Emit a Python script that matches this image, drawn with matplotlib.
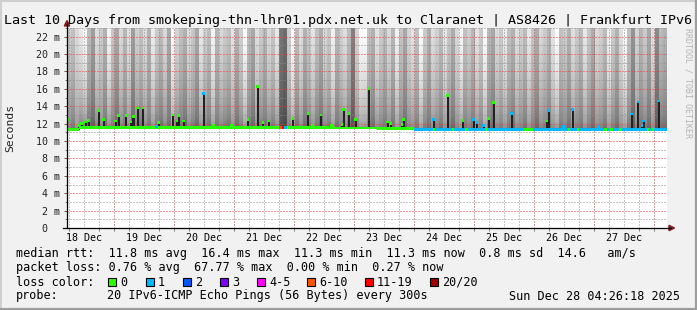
import numpy as np
import pandas as pd
import matplotlib
matplotlib.use("Agg")
import matplotlib.pyplot as plt
import matplotlib.dates as mdates
import matplotlib.transforms as mtransforms
from matplotlib.lines import Line2D
from matplotlib.patches import Polygon, Rectangle

W, H = 697, 310

# graph time window
t_start = pd.Timestamp("2025-12-18 05:06")
t_end = t_start + pd.Timedelta(days=10)

# smoke, one value per column: grey level just above the median and at the top
smoke_base = [120, 105, 135, 110, 125, 95, 85, 115, 130, 100,
              125, 110, 90, 120, 105, 130, 85, 115, 100, 125,
              110, 135, 105, 95, 120, 100, 140, 115, 105, 90,
              125, 110, 95, 130, 115, 100, 135, 105, 120, 110,
              100, 130, 95, 115, 140, 105, 90, 125, 110, 100,
              120, 110, 130, 70, 65, 115, 140, 100, 125, 95,
              110, 130, 105, 90, 120, 110, 135, 100, 115, 125,
              105, 75, 120, 140, 135, 110, 95, 125, 115, 100,
              120, 100, 135, 110, 90, 115, 125, 105, 140, 110,
              95, 125, 115, 100, 130, 110, 90, 120, 135, 105,
              115, 100, 125, 110, 140, 105, 90, 120, 110, 130,
              105, 95, 125, 115, 100, 130, 110, 90, 120, 110,
              100, 125, 135, 105, 115, 95, 125, 110, 100, 130,
              110, 90, 120, 115, 100, 135, 110, 95, 125, 140,
              105, 80, 115, 100, 110, 90, 125, 75, 100, 95]
smoke_top = [210, 195, 220, 235, 255, 190, 160, 225, 205, 180,
             248, 200, 170, 220, 185, 230, 160, 210, 195, 225,
             180, 240, 205, 190, 220, 170, 255, 215, 195, 180,
             225, 200, 170, 235, 210, 190, 248, 185, 220, 205,
             195, 230, 180, 210, 255, 195, 170, 225, 205, 185,
             220, 200, 235, 120, 110, 210, 255, 190, 225, 180,
             205, 230, 195, 175, 220, 200, 245, 185, 210, 225,
             190, 130, 215, 255, 255, 200, 180, 230, 205, 190,
             220, 185, 245, 200, 170, 215, 230, 195, 255, 205,
             180, 225, 210, 190, 235, 200, 175, 220, 250, 195,
             210, 185, 230, 205, 255, 190, 170, 220, 205, 240,
             195, 180, 225, 210, 190, 235, 200, 175, 220, 205,
             185, 230, 255, 195, 210, 180, 225, 205, 190, 235,
             200, 175, 220, 210, 190, 245, 205, 180, 225, 255,
             195, 150, 215, 185, 205, 170, 225, 140, 190, 180]

# median line: value holds until the next change
med_time = ["2025-12-18 05:06", "2025-12-18 10:00", "2025-12-21 17:54", "2025-12-21 19:00",
            "2025-12-21 20:00", "2025-12-21 21:00", "2025-12-22 14:00", "2025-12-23 09:00",
            "2025-12-24 00:00", "2025-12-24 07:30", "2025-12-24 08:30", "2025-12-24 15:00",
            "2025-12-24 16:00", "2025-12-24 20:30", "2025-12-24 21:30", "2025-12-25 04:30",
            "2025-12-25 05:30", "2025-12-25 20:00", "2025-12-25 23:30", "2025-12-26 13:30",
            "2025-12-26 14:30", "2025-12-26 17:00", "2025-12-26 18:00", "2025-12-27 04:00",
            "2025-12-27 05:00", "2025-12-27 06:30", "2025-12-27 07:30", "2025-12-27 10:00",
            "2025-12-27 11:00", "2025-12-27 21:00", "2025-12-27 22:00", "2025-12-27 23:00",
            "2025-12-28 00:00"]
med_ms = [11.3, 11.6, 11.6, 11.6, 11.6, 11.6, 11.5, 11.4,
          11.3, 11.3, 11.3, 11.3, 11.3, 11.3, 11.3, 11.3,
          11.3, 11.3, 11.3, 11.3, 11.3, 11.3, 11.3, 11.3,
          11.3, 11.3, 11.3, 11.3, 11.3, 11.3, 11.3, 11.3, 11.3]
med_loss = [0, 0, 5, 6, 1, 0, 0, 0,
            1, 0, 1, 0, 1, 0, 1, 0,
            1, 0, 1, 0, 1, 0, 1, 0,
            1, 0, 1, 0, 1, 0, 1, 0, 1]

# short median excursions
spike_time = ["2025-12-18 05:10", "2025-12-18 09:54", "2025-12-18 11:06", "2025-12-18 12:42",
              "2025-12-18 13:54", "2025-12-18 17:54", "2025-12-18 19:54", "2025-12-19 00:42",
              "2025-12-19 01:54", "2025-12-19 04:42", "2025-12-19 06:42", "2025-12-19 07:42",
              "2025-12-19 09:30", "2025-12-19 11:30", "2025-12-19 17:06", "2025-12-19 17:54",
              "2025-12-19 23:30", "2025-12-20 01:06", "2025-12-20 01:54", "2025-12-20 03:54",
              "2025-12-20 11:54", "2025-12-20 15:54", "2025-12-20 23:06", "2025-12-21 05:30",
              "2025-12-21 09:30", "2025-12-21 11:30", "2025-12-21 13:54", "2025-12-21 23:30",
              "2025-12-22 05:30", "2025-12-22 07:30", "2025-12-22 10:42", "2025-12-22 15:06",
              "2025-12-22 19:06", "2025-12-22 19:54", "2025-12-22 21:54", "2025-12-23 00:42",
              "2025-12-23 05:54", "2025-12-23 13:30", "2025-12-23 14:42", "2025-12-23 19:06",
              "2025-12-23 19:54", "2025-12-24 07:54", "2025-12-24 13:30", "2025-12-24 19:30",
              "2025-12-24 23:54", "2025-12-25 01:06", "2025-12-25 03:54", "2025-12-25 05:54",
              "2025-12-25 07:54", "2025-12-25 15:06", "2025-12-26 05:06", "2025-12-26 05:54",
              "2025-12-26 11:54", "2025-12-26 15:30", "2025-12-27 01:54", "2025-12-27 15:06",
              "2025-12-27 17:30", "2025-12-27 19:06", "2025-12-27 19:54", "2025-12-28 01:54"]
spike_ms = [12.5, 11.8, 12.0, 12.2, 12.4, 13.5, 12.5, 12.3,
            12.9, 12.9, 12.2, 12.8, 13.8, 13.8, 11.7, 12.1,
            13.0, 12.3, 12.9, 12.3, 15.5, 11.8, 11.8, 12.5,
            16.3, 12.1, 12.3, 12.6, 13.2, 11.8, 13.0, 11.8,
            11.9, 13.6, 13.2, 12.5, 16.0, 12.2, 12.0, 11.9,
            12.5, 12.5, 15.2, 12.4, 12.5, 12.1, 11.8, 12.6,
            14.4, 13.2, 12.3, 13.5, 11.7, 13.6, 11.7, 13.1,
            14.5, 11.8, 12.3, 14.6]
spike_loss = [0, 0, 0, 0, 0, 0, 0, 0,
              0, 0, 0, 0, 0, 0, 1, 0,
              0, 0, 0, 0, 1, 0, 0, 0,
              0, 0, 0, 0, 0, 0, 0, 0,
              0, 0, 0, 0, 0, 0, 0, 0,
              0, 1, 0, 0, 1, 1, 1, 0,
              0, 1, 0, 1, 1, 1, 1, 1,
              1, 1, 1, 1]

loss_labels = ["0", "1", "2", "3", "4-5", "6-10", "11-19", "20/20"]
loss_colors = ["#26ff00", "#00b8ff", "#0059ff", "#7e00ff",
               "#ff00ff", "#ff5500", "#ff0000", "#a10000"]

plt.rcParams['font.family'] = 'DejaVu Sans Mono'


def fx(x):
    return x / W


def fy(y):
    return 1 - y / H


fig = plt.figure(figsize=(W / 100, H / 100), dpi=100)
fig.patch.set_facecolor('#f1f1f1')
ax = fig.add_axes([fx(67), 82 / H, 600 / W, 200 / H])
ax.set_facecolor('white')
for s in ax.spines.values():
    s.set_visible(False)

x0 = mdates.date2num(t_start)
x1 = mdates.date2num(t_end)

# smoke columns, shaded from the grey near the median to the grey at the top
n = len(smoke_top)
edges = np.linspace(x0, x1, n + 1)
centers = (edges[:-1] + edges[1:]) / 2
mt = mdates.date2num(pd.to_datetime(med_time))
med_arr = np.array(med_ms)
base = med_arr[np.searchsorted(mt, centers, side='right') - 1]
levels = np.linspace(11.0, 23.0, 241)
img = np.ones((len(levels), n, 4))
for j in range(n):
    frac = np.clip((levels - base[j]) / (23.0 - base[j]), 0, 1)
    g = (smoke_base[j] + (smoke_top[j] - smoke_base[j]) * frac ** 0.45) / 255
    img[:, j, 0] = g
    img[:, j, 1] = g
    img[:, j, 2] = g
    img[levels < base[j], j, 3] = 0
ax.imshow(img, extent=[x0, x1, 11.0, 23.0], origin='lower', aspect='auto',
          interpolation='nearest', zorder=1)

# median line (thick band like smokeping draws it)
d = 0.16
seg_end = np.append(mt[1:], x1)
ax.bar(mt, 2 * d, bottom=med_arr - d, width=seg_end - mt, align='edge',
       color=[loss_colors[k] for k in med_loss], linewidth=0, zorder=4)

# spikes: dark smoke up to the median, coloured median on top
st = mdates.date2num(pd.to_datetime(spike_time))
sp = np.array(spike_ms)
sbase = med_arr[np.searchsorted(mt, st, side='right') - 1]
w = 1.2 / 24
ax.bar(st, sp - sbase, bottom=sbase, width=w * 0.8, color='#222222', linewidth=0, zorder=3)
ax.bar(st, 2 * d, bottom=sp - d, width=w, color=[loss_colors[k] for k in spike_loss],
       linewidth=0, zorder=5)

ax.set_xlim(x0, x1)
ax.set_ylim(0, 23)

# grid
ax.set_axisbelow(False)
dash = (0, (1, 2))
ax.yaxis.set_major_locator(plt.MultipleLocator(2))
ax.yaxis.set_minor_locator(plt.MultipleLocator(1))
ax.xaxis.set_major_locator(mdates.HourLocator(byhour=12))
ax.xaxis.set_major_formatter(mdates.DateFormatter('%d %b'))
ax.xaxis.set_minor_locator(mdates.HourLocator(byhour=[0, 6, 18]))
grey = (0.55, 0.55, 0.55, 0.22)
ax.grid(which='both', axis='x', color=grey, linestyle=dash, linewidth=0.72)
ax.grid(which='minor', axis='y', color=grey, linestyle=dash, linewidth=0.72)
ax.grid(which='major', axis='y', color=(1, 0.2, 0.2, 0.22), linestyle=dash, linewidth=0.72)
midnights = mdates.date2num(pd.date_range(t_start.ceil('D'), t_end, freq='D'))
ax.vlines(midnights, 0, 23, colors=[(0.95, 0.1, 0.1, 0.4)], linestyles=dash, linewidth=0.72, zorder=2.6)

ax.tick_params(axis='x', which='major', length=0, pad=3.5, labelsize=7.2)
ax.tick_params(axis='x', which='minor', length=2, width=0.6, color='#666666')
ax.tick_params(axis='y', which='major', length=2.5, width=0.6, color='#444444', labelleft=False)
ax.tick_params(axis='y', which='minor', length=1.5, width=0.6, color='#666666')

# y labels, drawn by hand so "0" sits like rrdtool's
ytr = mtransforms.blended_transform_factory(fig.transFigure, ax.transData)
for v in range(0, 23, 2):
    lab = " 0" if v == 0 else f"{v:2d} m"
    fig.text(fx(36), v, lab, transform=ytr, ha='left', va='center_baseline',
             fontsize=7.2, color='#222222')

# axes lines and arrows
fig.add_artist(Line2D([fx(67), fx(67)], [fy(228), fy(24)], color='black', lw=0.9))
fig.add_artist(Line2D([fx(63), fx(671)], [fy(228), fy(228)], color='black', lw=0.9))
fig.add_artist(Polygon([[fx(64.3), fy(26)], [fx(69.7), fy(26)], [fx(67), fy(20.5)]],
                       closed=True, color='#7f1d1d', transform=fig.transFigure))
fig.add_artist(Polygon([[fx(669), fy(225.3)], [fx(669), fy(230.7)], [fx(674.5), fy(228)]],
                       closed=True, color='#7f1d1d', transform=fig.transFigure))

# frame shading
fig.add_artist(Line2D([0, 1], [fy(0.7), fy(0.7)], color='#cfcfcf', lw=1.4))
fig.add_artist(Line2D([fx(0.7), fx(0.7)], [0, 1], color='#cfcfcf', lw=1.4))
fig.add_artist(Line2D([0, 1], [fy(309), fy(309)], color='#9e9e9e', lw=1.6))
fig.add_artist(Line2D([fx(696), fx(696)], [0, 1], color='#9e9e9e', lw=1.6))

# texts
fig.text(fx(348), fy(24), "Last 10 Days from smokeping-thn-lhr01.pdx.net.uk to Claranet | AS8426 | Frankfurt IPv6",
         ha='center', va='baseline', fontsize=9.6, color='black')
fig.text(fx(10.5), fy(128), "Seconds", rotation=90, ha='center', va='center', fontsize=8.2, color='#222222')
fig.text(fx(688), fy(28), "RRDTOOL / TOBI OETIKER", rotation=270, ha='center', va='top',
         fontsize=6.0, color='#b4b4b4')

fs = 8.5
fig.text(fx(16), fy(257.5), "median rtt:  11.8 ms avg  16.4 ms max  11.3 ms min  11.3 ms now  0.8 ms sd  14.6   am/s",
         ha='left', va='baseline', fontsize=fs)
fig.text(fx(16), fy(271.5), "packet loss: 0.76 % avg  67.77 % max  0.00 % min  0.27 % now",
         ha='left', va='baseline', fontsize=fs)
fig.text(fx(16), fy(285.5), "loss color:", ha='left', va='baseline', fontsize=fs)
box_x = [108, 146, 183, 220, 257, 307, 365, 430]
for bx, lab, c in zip(box_x, loss_labels, loss_colors):
    fig.add_artist(Rectangle((fx(bx), fy(286)), 8 / W, 8 / H, facecolor=c, edgecolor='black',
                             lw=0.8, transform=fig.transFigure))
    fig.text(fx(bx + 12), fy(285.5), lab, ha='left', va='baseline', fontsize=fs)
fig.text(fx(16), fy(299.5), "probe:", ha='left', va='baseline', fontsize=fs)
fig.text(fx(107), fy(299.5), "20 IPv6-ICMP Echo Pings (56 Bytes) every 300s",
         ha='left', va='baseline', fontsize=fs)
fig.text(fx(680), fy(299.5), "Sun Dec 28 04:26:18 2025", ha='right', va='baseline', fontsize=fs)

fig.savefig('out.png', dpi=100, facecolor=fig.get_facecolor())
